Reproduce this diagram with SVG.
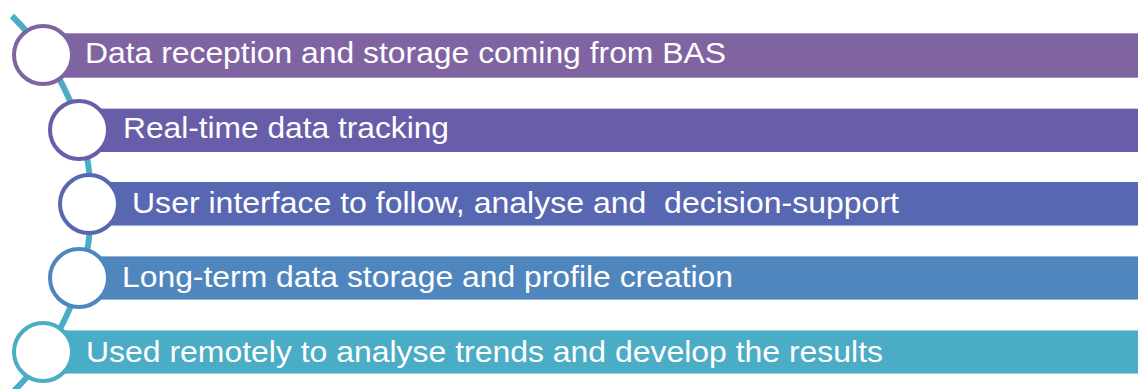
<svg xmlns="http://www.w3.org/2000/svg" width="1138" height="389" viewBox="0 0 1138 389">
<style>
.lbl{font-family:"Liberation Sans",Arial,sans-serif;font-size:29px;fill:#ffffff}
.ring{fill:#ffffff;stroke-width:4}
.edge{stroke-width:1;fill:none}
</style>
<rect width="1138" height="389" fill="#ffffff"/>
<g id="connectors">
<path d="M 12 16 A 264 264 0 0 1 13 392" fill="none" stroke="#4BACC6" stroke-width="6"/>
</g>
<g id="step1">
<rect x="43" y="33" width="1095" height="45" fill="#8064A2"/>
<path class="edge" d="M43 33.5H1138M43 77.5H1138" stroke="#A996C0"/>
<circle class="ring" cx="43" cy="55" r="29" stroke="#8064A2"/>
<text class="lbl" x="85" y="63" textLength="641" lengthAdjust="spacingAndGlyphs">Data reception and storage coming from BAS</text>
</g>
<g id="step2">
<rect x="79" y="108" width="1059" height="44" fill="#685DA8"/>
<path class="edge" d="M79 108.5H1138" stroke="#C9C6E0"/>
<circle class="ring" cx="79" cy="130" r="29" stroke="#685DA8"/>
<text class="lbl" x="123" y="138" textLength="326" lengthAdjust="spacingAndGlyphs">Real-time data tracking</text>
</g>
<g id="step3">
<rect x="89" y="182" width="1049" height="44" fill="#5867B2"/>
<path class="edge" d="M89 225.5H1138" stroke="#A3ACD6"/>
<circle class="ring" cx="89" cy="204" r="29" stroke="#5867B2"/>
<text class="lbl" x="132" y="213" textLength="767" lengthAdjust="spacingAndGlyphs" xml:space="preserve">User interface to follow, analyse and  decision-support</text>
</g>
<g id="step4">
<rect x="79" y="256" width="1059" height="44" fill="#4F86BE"/>
<path class="edge" d="M79 256.5H1138M79 299.5H1138" stroke="#93B5DA"/>
<circle class="ring" cx="79" cy="278" r="29" stroke="#4F86BE"/>
<text class="lbl" x="122" y="287" textLength="611" lengthAdjust="spacingAndGlyphs">Long-term data storage and profile creation</text>
</g>
<g id="step5">
<rect x="43" y="330" width="1095" height="44" fill="#4BACC6"/>
<path class="edge" d="M43 330.5H1138M43 373.5H1138" stroke="#93CFDE"/>
<circle class="ring" cx="43" cy="352" r="29" stroke="#4BACC6"/>
<text class="lbl" x="86" y="362" textLength="797" lengthAdjust="spacingAndGlyphs">Used remotely to analyse trends and develop the results</text>
</g>
</svg>
